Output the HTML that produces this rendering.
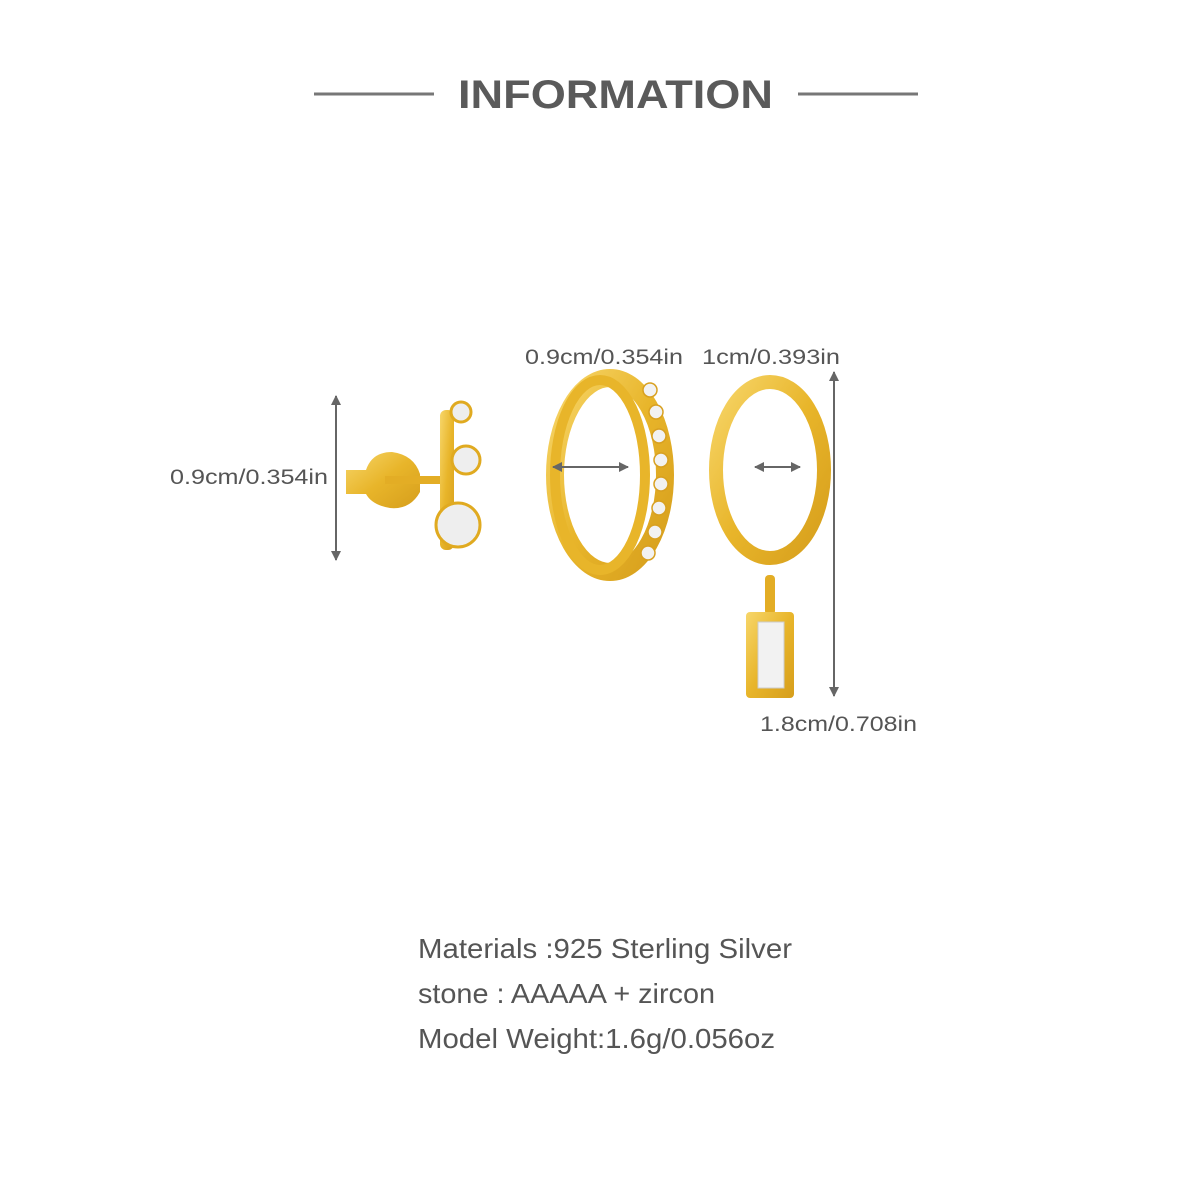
<!DOCTYPE html>
<html><head><meta charset="utf-8"><style>
body{margin:0;background:#fff;}
svg{display:block}
text{font-family:"Liberation Sans",sans-serif;fill:#555}
</style></head><body>
<svg width="1200" height="1200" viewBox="0 0 1200 1200" xmlns="http://www.w3.org/2000/svg">
<defs>
<linearGradient id="g" x1="0" y1="0" x2="1" y2="1">
<stop offset="0" stop-color="#f7d66a"/><stop offset="0.5" stop-color="#e8b52a"/><stop offset="1" stop-color="#d69e1c"/>
</linearGradient>
<marker id="a" viewBox="0 0 10 10" refX="9" refY="5" markerWidth="5" markerHeight="5" orient="auto-start-reverse"><path d="M0,0L10,5L0,10z" fill="#666"/></marker>
</defs>
<line x1="314" y1="94" x2="434" y2="94" stroke="#777" stroke-width="3"/>
<line x1="798" y1="94" x2="918" y2="94" stroke="#777" stroke-width="3"/>
<text x="458" y="108" font-size="40" textLength="315" lengthAdjust="spacingAndGlyphs" style="font-weight:bold;fill:#5a5a5a">INFORMATION</text>

<!-- stud -->
<line x1="336" y1="396" x2="336" y2="560" stroke="#666" stroke-width="2" marker-start="url(#a)" marker-end="url(#a)"/>
<text x="170" y="484" font-size="21" textLength="158" lengthAdjust="spacingAndGlyphs">0.9cm/0.354in</text>
<path d="M346 470 L366 470 Q372 452 392 452 Q414 455 420 474 L420 492 Q410 510 390 508 Q372 505 366 494 L346 494z" fill="url(#g)"/>
<rect x="385" y="476" width="60" height="8" fill="#e3ad25"/>
<rect x="440" y="410" width="14" height="140" rx="6" fill="url(#g)"/>
<circle cx="461" cy="412" r="10" fill="#eee" stroke="#e0aa20" stroke-width="3"/>
<circle cx="466" cy="460" r="14" fill="#eee" stroke="#e0aa20" stroke-width="3"/>
<circle cx="458" cy="525" r="22" fill="#eee" stroke="#e0aa20" stroke-width="3"/>

<!-- hoop 1 -->
<text x="525" y="364" font-size="21" textLength="158" lengthAdjust="spacingAndGlyphs">0.9cm/0.354in</text>
<ellipse cx="610" cy="475" rx="55" ry="97" fill="none" stroke="url(#g)" stroke-width="18"/>
<ellipse cx="600" cy="475" rx="45" ry="95" fill="none" stroke="#e8b52a" stroke-width="10"/>
<g fill="#f2f2f2" stroke="#d8a020" stroke-width="1.5">
<circle cx="650" cy="390" r="7"/><circle cx="656" cy="412" r="7"/><circle cx="659" cy="436" r="7"/><circle cx="661" cy="460" r="7"/><circle cx="661" cy="484" r="7"/><circle cx="659" cy="508" r="7"/><circle cx="655" cy="532" r="7"/><circle cx="648" cy="553" r="7"/></g>
<line x1="553" y1="467" x2="628" y2="467" stroke="#666" stroke-width="2" marker-start="url(#a)" marker-end="url(#a)"/>

<!-- hoop 2 -->
<text x="702" y="364" font-size="21" textLength="138" lengthAdjust="spacingAndGlyphs">1cm/0.393in</text>
<line x1="834" y1="372" x2="834" y2="696" stroke="#666" stroke-width="2" marker-start="url(#a)" marker-end="url(#a)"/>
<ellipse cx="770" cy="470" rx="54" ry="88" fill="none" stroke="url(#g)" stroke-width="14"/>
<line x1="755" y1="467" x2="800" y2="467" stroke="#666" stroke-width="2" marker-start="url(#a)" marker-end="url(#a)"/>
<rect x="765" y="575" width="10" height="40" rx="4" fill="#e3ad25"/>
<rect x="746" y="612" width="48" height="86" rx="4" fill="url(#g)"/>
<rect x="758" y="622" width="26" height="66" fill="#f2f2f2" stroke="#ccc"/>
<text x="760" y="731" font-size="21" textLength="157" lengthAdjust="spacingAndGlyphs">1.8cm/0.708in</text>

<text x="418" y="958" font-size="28" textLength="374" lengthAdjust="spacingAndGlyphs">Materials :925 Sterling Silver</text>
<text x="418" y="1003" font-size="28" textLength="297" lengthAdjust="spacingAndGlyphs">stone : AAAAA  + zircon</text>
<text x="418" y="1048" font-size="28" textLength="357" lengthAdjust="spacingAndGlyphs">Model Weight:1.6g/0.056oz</text>
</svg>
</body></html>
